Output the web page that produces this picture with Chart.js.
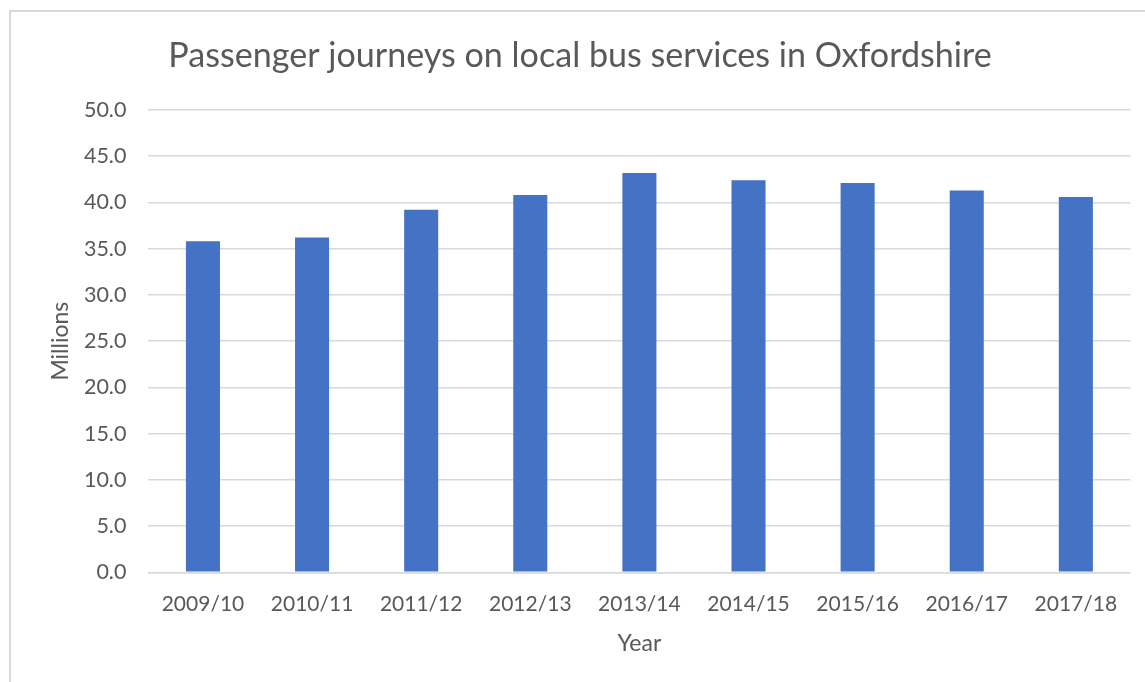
<!DOCTYPE html>
<html>
<head>
<meta charset="utf-8">
<title>Passenger journeys on local bus services in Oxfordshire</title>
<script src="https://cdn.jsdelivr.net/npm/chart.js@4.4.0/dist/chart.umd.min.js"></script>
<style>
    html, body { margin: 0; padding: 0; background: #fff; overflow: hidden; }
    #wrap { position: relative; width: 1145px; height: 682px; }
    /* Excel chart-area frame, runs off the right and bottom edges */
    #frame {
        position: absolute; left: 9px; top: 10px;
        width: 1200px; height: 800px;
        border: 2px solid #d9d9d9; box-sizing: border-box;
    }
    canvas { position: absolute; left: 0; top: 0; }
</style>
</head>
<body>
<div id="wrap">
    <div id="frame"></div>
    <canvas id="chart" width="1145" height="682"></canvas>
</div>
<script>
// Datos (millones de viajes)
const years = ['2009/10', '2010/11', '2011/12', '2012/13', '2013/14', '2014/15', '2015/16', '2016/17', '2017/18'];
const journeys = [35.8, 36.2, 39.2, 40.8, 43.2, 42.4, 42.1, 41.3, 40.6];

// Eje Y
const yMin = 0;
const yMax = 50;
const yStep = 5;

const titleText = 'Passenger journeys on local bus services in Oxfordshire';
const xTitle = 'Year';
const yTitle = 'Millions';

const textColor = '#595959';
const gridColor = '#d9d9d9';
const barColor = '#4472c4';

Chart.defaults.font.family = 'Lato, "Open Sans", sans-serif';
Chart.defaults.color = textColor;

const ctx = document.getElementById('chart').getContext('2d');

new Chart(ctx, {
    type: 'bar',
    data: {
        labels: years,
        datasets: [{
            label: yTitle,
            data: journeys,
            backgroundColor: barColor,
            borderWidth: 0,
            barPercentage: 0.312,
            categoryPercentage: 1.0
        }]
    },
    options: {
        responsive: false,
        animation: false,
        layout: {
            padding: { top: 10, left: 29.6, right: 14.6, bottom: 0 }
        },
        plugins: {
            legend: { display: false },
            tooltip: { enabled: false },
            title: {
                display: true,
                text: titleText,
                color: textColor,
                font: { size: 34.1, weight: 'normal' },
                padding: { top: 25.5, bottom: 33.6 }
            }
        },
        scales: {
            x: {
                grid: { display: false, drawTicks: false },
                border: { display: true, color: gridColor, width: 1.5 },
                ticks: {
                    color: textColor,
                    font: { size: 21 },
                    padding: 19,
                    maxRotation: 0,
                    autoSkip: false
                },
                title: {
                    display: true,
                    text: xTitle,
                    color: textColor,
                    font: { size: 23 },
                    padding: { top: 0, bottom: 24.7 }
                },
                afterFit(scale) {
                    scale.height = 109.7;
                }
            },
            y: {
                min: yMin,
                max: yMax,
                grid: { color: gridColor, lineWidth: 1.5, drawTicks: false },
                border: { display: false },
                ticks: {
                    stepSize: yStep,
                    color: textColor,
                    font: { size: 21.5 },
                    padding: 22,
                    callback: (value) => value.toFixed(1)
                },
                title: {
                    display: true,
                    text: yTitle,
                    color: textColor,
                    font: { size: 23 },
                    padding: { top: 17.6, bottom: 0 }
                },
                afterFit(scale) {
                    scale.width = 118.8;
                }
            }
        }
    }
});
</script>
</body>
</html>
